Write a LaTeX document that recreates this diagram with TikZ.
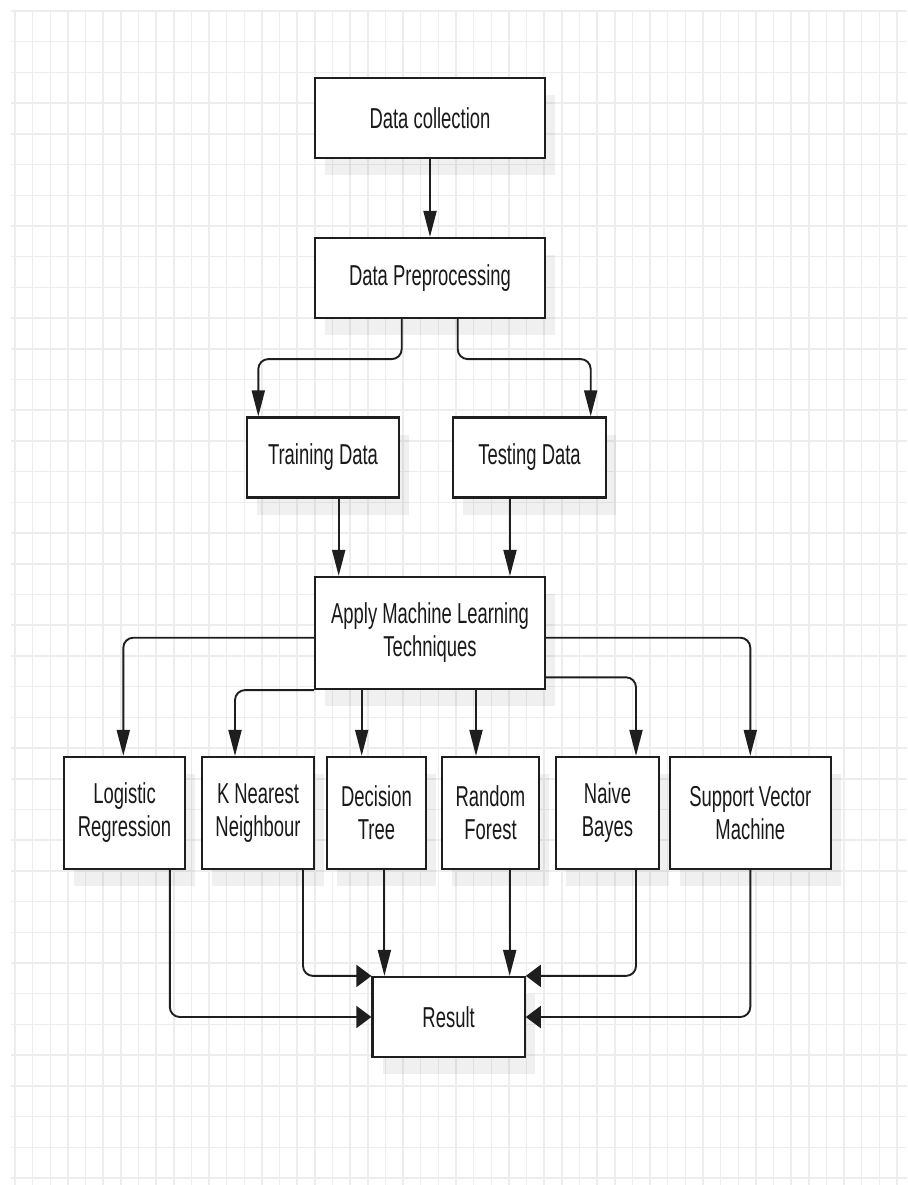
\documentclass[tikz,border=0pt]{standalone}
\usepackage{fontspec}
\setmainfont{Liberation Sans}[FakeStretch=0.64]
\usetikzlibrary{arrows.meta,shadows}
\definecolor{gridc}{RGB}{237,237,237}
\definecolor{linec}{RGB}{30,30,30}
\begin{document}
\begin{tikzpicture}[x=1pt,y=-1pt,
  gridline/.style={draw=gridc, line width=1.5pt},
  box/.style={draw=linec, line width=2.2pt, fill=white, align=center, inner sep=0pt,
    text=black!90, font=\fontsize{28.8}{33}\selectfont,
    drop shadow={shadow xshift=10pt, shadow yshift=-17pt, fill=black, opacity=0.06}},
  small/.style={minimum height=80pt},
  tall/.style={minimum height=112pt},
  varr/.style={draw=linec, line width=1.9pt, rounded corners=10pt,
    -{Triangle[length=26pt,width=13pt]}},
  harr/.style={draw=linec, line width=1.9pt, rounded corners=10pt,
    -{Triangle[length=15pt,width=22pt]}}
]
\useasboundingbox (0,0) rectangle (907,1185);
\fill[white] (0,0) rectangle (907,1185);
% grid
\foreach \i in {0,...,50} \draw[gridline] ({15+17.64*\i},10) -- ({15+17.64*\i},1185);
\foreach \j in {0,...,38} \draw[gridline] (11,{11+30.71*\j}) -- (907,{11+30.71*\j});

% nodes
\node[box, small, minimum width=230pt] (dc) at (430,118) {Data collection};
\node[box, small, minimum width=230pt] (dp) at (430,278) {Data Preprocessing};
\node[box, small, minimum width=152pt] (tr) at (323,457.5) {Training Data};
\node[box, small, minimum width=153pt] (te) at (529.5,457.5) {Testing Data};
\node[box, tall, minimum width=230pt] (ml) at (430,633) {Apply Machine Learning\\Techniques};
\node[box, tall, minimum width=121pt] (lr) at (124.5,813) {Logistic\\Regression};
\node[box, tall, minimum width=112.6pt] (knn) at (258,813) {K Nearest\\Neighbour};
\node[box, tall, minimum width=98.4pt] (dt) at (376.5,813) {Decision\\Tree};
\node[box, tall, minimum width=97.6pt] (rf) at (490.5,813) {Random\\Forest};
\node[box, tall, minimum width=103pt] (nb) at (607.5,813) {Naive\\Bayes};
\node[box, tall, minimum width=160.7pt] (svm) at (750.3,813) {Support Vector\\Machine};
\node[box, small, minimum width=152.2pt] (res) at (448.6,1017) {Result};

% connectors
\draw[varr] (dc) -- (dp);
\draw[varr] ([xshift=-28.3pt]dp.south) -- ++(0,40) -| ([xshift=-64.7pt]tr.north);
\draw[varr] ([xshift=27.7pt]dp.south) -- ++(0,40) -| ([xshift=61.2pt]te.north);
\draw[varr] ([xshift=15.7pt]tr.south) -- ([xshift=15.7pt]tr.south |- ml.north);
\draw[varr] ([xshift=-19.5pt]te.south) -- ([xshift=-19.5pt]te.south |- ml.north);

\draw[varr] ([yshift=-4.7pt]ml.west) -| ([xshift=-1.2pt]lr.north);
\draw[varr] (ml.south west) -| ([xshift=-23pt]knn.north);
\draw[varr] ([xshift=-14.8pt]dt.north |- ml.south) -- ([xshift=-14.8pt]dt.north);
\draw[varr] ([xshift=-14.5pt]rf.north |- ml.south) -- ([xshift=-14.5pt]rf.north);
\draw[varr] ([yshift=-44.3pt]ml.east) -| ([xshift=28.5pt]nb.north);
\draw[varr] ([yshift=-4.7pt]ml.east) -| (svm.north);

\draw[harr] ([xshift=45.3pt]lr.south) |- (res.west);
\draw[harr] ([xshift=45pt]knn.south) |- (res.north west);
\draw[varr] ([xshift=7.9pt]dt.south) -- ([xshift=7.9pt]dt.south |- res.north);
\draw[varr] ([xshift=19.2pt]rf.south) -- ([xshift=19.2pt]rf.south |- res.north);
\draw[harr] ([xshift=28.5pt]nb.south) |- (res.north east);
\draw[harr] (svm.south) |- (res.east);
\end{tikzpicture}
\end{document}
